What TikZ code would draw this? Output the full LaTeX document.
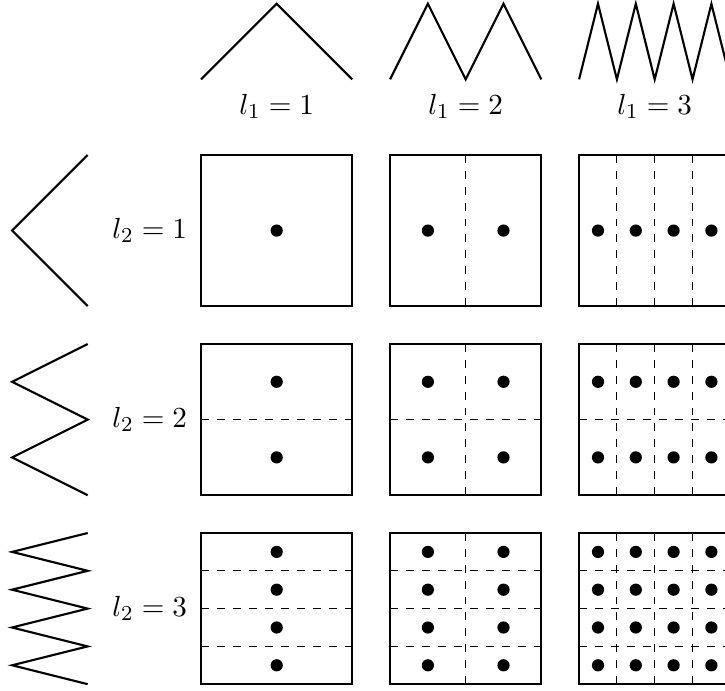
\documentclass[11pt,tikz,border=0pt]{standalone}
\tikzset{
  cellbox/.style={thick},
  subgrid/.style={thin, dashed},
  hatline/.style={thick, line join=miter},
  gridpoint/.style={fill=black}
}
\begin{document}
\begin{tikzpicture}
        \useasboundingbox (-2.66,-5.09) rectangle (6.93,4.05);

        % Hat functions on top
        \draw[hatline] (0,3) -- (1,4) -- (2,3);
        \draw[hatline] (2.5,3) -- (3,4) -- (3.5,3) -- (4,4) -- (4.5,3);
        \draw[hatline] (5,3) -- (5.25,4) -- (5.5,3) -- (5.75,4) -- (6,3)
                -- (6.25,4) -- (6.5,3) -- (6.75,4) -- (7,3);

        % Hat functions on the left
        \draw[hatline] (-1.5,2) -- (-2.5,1) -- (-1.5,0);
        \draw[hatline] (-1.5,-0.5) -- (-2.5,-1) -- (-1.5,-1.5) -- (-2.5,-2) -- (-1.5,-2.5);
        \draw[hatline] (-1.5,-3) -- (-2.5,-3.25) -- (-1.5,-3.5) -- (-2.5,-3.75) -- (-1.5,-4)
                -- (-2.5,-4.25) -- (-1.5,-4.5) -- (-2.5,-4.75) -- (-1.5,-5);

        % Level labels
        \node (lx1) at (1,2.64) {$l_1 = 1$};
        \node (lx2) at (3.5,2.64) {$l_1 = 2$};
        \node (lx3) at (6,2.64) {$l_1 = 3$};
        \node[left] (ly1) at (-0.05,1) {$l_2 = 1$};
        \node[left] (ly2) at (-0.05,-1.5) {$l_2 = 2$};
        \node[left] (ly3) at (-0.05,-4) {$l_2 = 3$};

        % Grids with their points
        \foreach \c in {0,1,2} {
          \foreach \r in {0,1,2} {
            \pgfmathtruncatemacro{\nx}{2^\c}
            \pgfmathtruncatemacro{\ny}{2^\r}
            \pgfmathsetmacro{\sx}{2/\nx}
            \pgfmathsetmacro{\sy}{2/\ny}
            \begin{scope}[shift={(2.5*\c,-2.5*\r)}]
              \draw[subgrid, xstep=\sx, ystep=\sy] (0,0) grid (2,2);
              \draw[cellbox] (0,0) rectangle (2,2);
              \foreach \i in {1,...,\nx} {
                \foreach \j in {1,...,\ny} {
                  \fill[gridpoint] ({(\i-0.5)*\sx},{(\j-0.5)*\sy}) circle (2.3pt);
                }
              }
            \end{scope}
          }
        }
    \end{tikzpicture}
\end{document}
